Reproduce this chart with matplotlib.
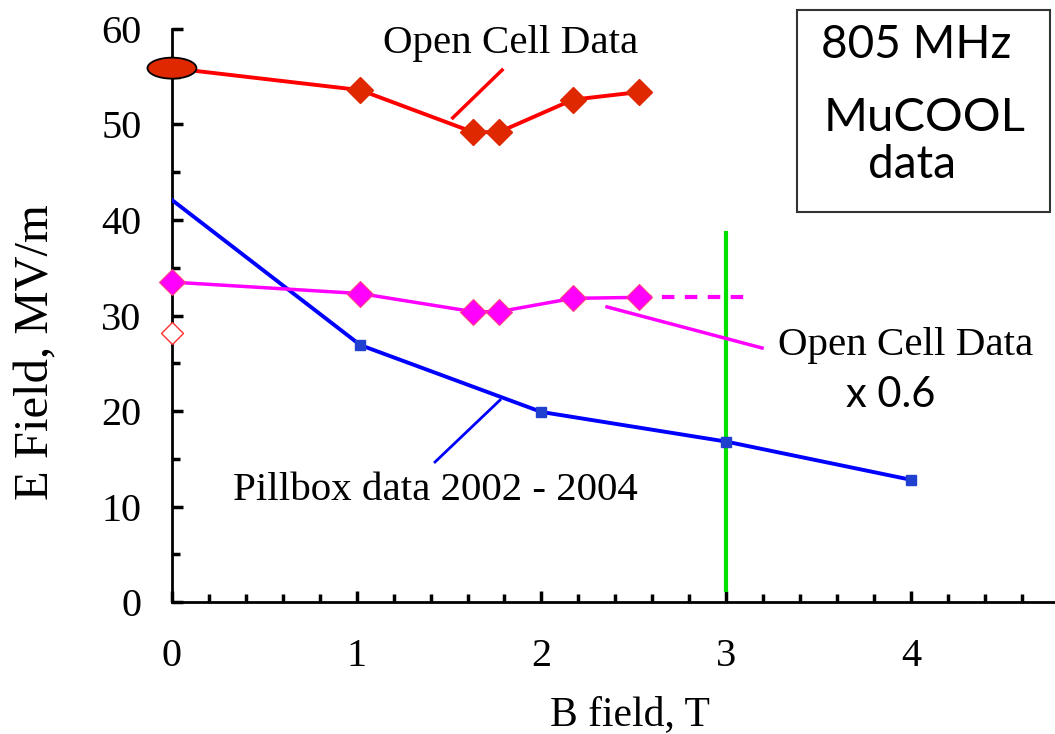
import numpy as np
import matplotlib
matplotlib.use('agg')
import matplotlib.pyplot as plt
from matplotlib.patches import Ellipse, Rectangle
from matplotlib.ticker import MultipleLocator

# open cell data (measured)
open_b = [1.02, 1.63, 1.77, 2.17, 2.53]
open_e = [53.6, 49.2, 49.2, 52.6, 53.4]
open_b0, open_e0 = 0.0, 55.9          # ellipse point at B = 0

# open cell data scaled x 0.6
scaled_b = [0.0, 1.02, 1.63, 1.77, 2.17, 2.53]
scaled_e = [33.5, 32.3, 30.4, 30.4, 31.8, 31.9]
scaled_ext_b = [2.53, 3.11]
scaled_ext_e = [31.9, 31.9]

# pillbox data 2002 - 2004
pill_b = [0.0, 1.02, 2.0, 3.0, 4.0]
pill_e = [42.1, 26.9, 19.9, 16.8, 12.8]

serif = 'Liberation Serif'
sans = 'Lato'

fig = plt.figure(figsize=(10.55, 7.34), dpi=100)
ax = fig.add_axes([0.163, 0.1798, 0.837, 0.7807])
ax.set_xlim(0, 4.78)
ax.set_ylim(0, 60)

for s in ['top', 'right']:
    ax.spines[s].set_visible(False)
for s in ['left', 'bottom']:
    ax.spines[s].set_linewidth(2)

ax.xaxis.set_major_locator(MultipleLocator(1))
ax.xaxis.set_minor_locator(MultipleLocator(0.2))
ax.yaxis.set_major_locator(MultipleLocator(10))
ax.yaxis.set_minor_locator(MultipleLocator(5))
ax.tick_params(which='major', direction='in', length=8, width=2.5)
ax.tick_params(which='minor', direction='in', length=6, width=2.5)
ax.tick_params(axis='x', which='major', pad=26)
ax.tick_params(axis='y', which='major', pad=22)
for lab in ax.get_xticklabels() + ax.get_yticklabels():
    lab.set_fontfamily(serif)
    lab.set_fontsize(29)

ax.set_xlabel('B field, T', fontfamily=serif, fontsize=30)
ax.set_ylabel('E Field, MV/m', fontfamily=serif, fontsize=35)
ax.xaxis.set_label_coords(0.519, -0.163)
ax.yaxis.set_label_coords(-0.128, 0.436)

# green line at 3 T
ax.plot([3, 3], [1.3, 38.6], color='#00e000', lw=3, zorder=2)

# pillbox
ax.plot(pill_b, pill_e, color='#0000ff', lw=2.8, zorder=3)
ax.plot(pill_b[1:], pill_e[1:], ls='none', marker='s', ms=7,
        color='#2040d0', zorder=4)

# scaled open cell
ax.plot(scaled_ext_b, scaled_ext_e, color='#ff00ff', lw=3,
        ls=(0, (3, 2.5)), zorder=3)
ax.plot(scaled_b, scaled_e, color='#ff00ff', lw=2.5, marker='D', ms=13,
        mfc='#ff00ff', mec='#ff4080', mew=0.8, zorder=4, clip_on=False)

# open cell
ax.plot([open_b0] + open_b, [open_e0] + open_e, color='#ff0000', lw=2.8,
        zorder=3)
ax.plot(open_b, open_e, ls='none', marker='D', ms=13, color='#e02800',
        zorder=4)
ax.add_patch(Ellipse((open_b0, open_e0), 0.265, 2.2, facecolor='#e02800',
                     edgecolor='black', lw=1.3, zorder=5, clip_on=False))
# small open diamond on the axis
ax.plot([0], [28.2], ls='none', marker='D', ms=11, mfc='white',
        mec='#ff3030', mew=1, zorder=5, clip_on=False)

# annotation lines and labels
ax.plot([1.787, 1.52], [55.7, 50.7], color='#ff0000', lw=2.5, zorder=3)
ax.plot([2.355, 3.194], [30.9, 26.6], color='#ff00ff', lw=2.5, zorder=3)
ax.plot([1.424, 1.776], [14.66, 21.15], color='#0000ff', lw=2, zorder=3)

ax.text(1.835, 58.5, 'Open Cell Data', fontfamily=serif, fontsize=29.5,
        ha='center', va='center')
ax.text(3.28, 26.9, 'Open Cell Data', fontfamily=serif, fontsize=29.5,
        ha='left', va='center')
ax.text(3.89, 21.7, 'x 0.6', fontfamily=sans, fontsize=30,
        ha='center', va='center')
ax.text(0.33, 11.7, 'Pillbox data 2002 - 2004', fontfamily=serif,
        fontsize=29.5, ha='left', va='center')

# box top right
fig.patches.append(Rectangle((797 / 1055, 1 - 212 / 734),
                             253 / 1055, 202 / 734,
                             transform=fig.transFigure, fill=False,
                             edgecolor='#333333', lw=1.5))
fig.text(916 / 1055, 1 - 45 / 734, '805 MHz', fontfamily=sans, fontsize=33,
         ha='center', va='center')
fig.text(925 / 1055, 1 - 118 / 734, 'MuCOOL', fontfamily=sans, fontsize=34,
         ha='center', va='center')
fig.text(912 / 1055, 1 - 165 / 734, 'data', fontfamily=sans, fontsize=33,
         ha='center', va='center')

fig.savefig('out.png', dpi=100)
